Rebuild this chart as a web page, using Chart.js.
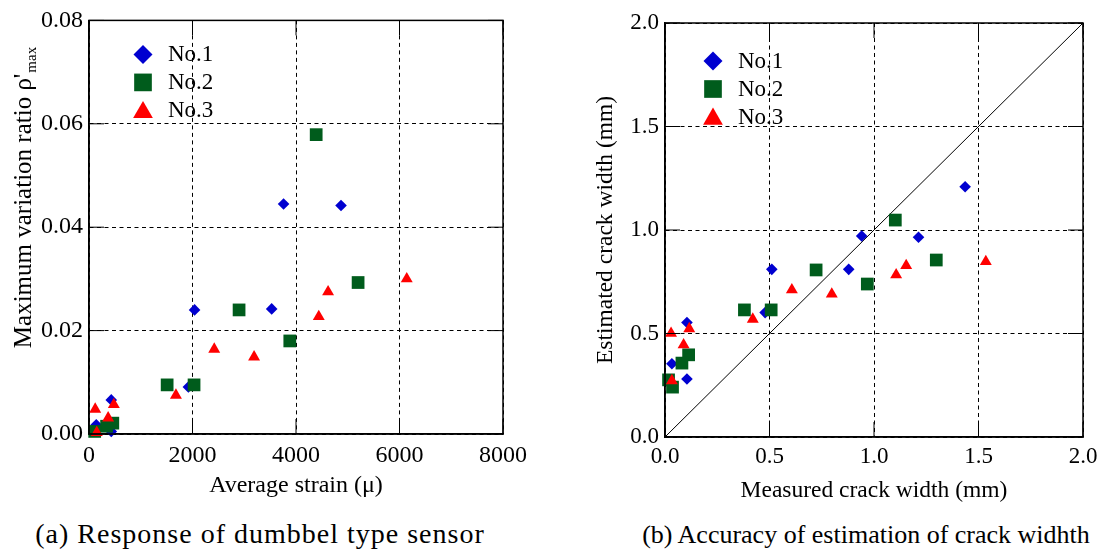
<!DOCTYPE html>
<html>
<head>
<meta charset="utf-8">
<script src="https://cdn.jsdelivr.net/npm/chart.js@4/dist/chart.umd.min.js"></script>
<style>
  body { margin: 0; background: #fff; width: 1105px; height: 552px; position: relative; overflow: hidden; }
  #wrapA { position: absolute; left: 0; top: 0; width: 540px; height: 500px; }
  #wrapB { position: absolute; left: 555px; top: 0; width: 550px; height: 510px; }
  .caption { position: absolute; top: 520px; font-family: "Liberation Serif", serif; font-size: 26px; color: #000; white-space: nowrap; transform: translateX(-50%); }
</style>
</head>
<body>
<div id="wrapA"><canvas id="chartA" width="540" height="500"></canvas></div>
<div id="wrapB"><canvas id="chartB" width="550" height="510"></canvas></div>
<div class="caption" style="left:260px; top:518px; font-size:28px; letter-spacing:1px">(a) Response of dumbbel type sensor</div>
<div class="caption" style="left:866px">(b) Accuracy of estimation of crack widhth</div>

<script>
// ---- data: (a) average strain vs maximum variation ratio ----
const seriesNames = ['No.1', 'No.2', 'No.3'];

const strainNo1 = [3760, 4870, 2040, 3530, 1920, 430, 140, 430];
const ratioNo1  = [0.0445, 0.0442, 0.0240, 0.0242, 0.0091, 0.0066, 0.0018, 0.0005];

const strainNo2 = [4390, 5200, 2900, 3880, 1510, 2030, 460, 340, 110];
const ratioNo2  = [0.0579, 0.0293, 0.0240, 0.0180, 0.0095, 0.0095, 0.0021, 0.0015, 0.0005];

const strainNo3 = [4620, 6140, 4440, 2420, 3190, 1680, 120, 480, 370, 150];
const ratioNo3  = [0.0275, 0.0300, 0.0227, 0.0164, 0.0149, 0.0075, 0.0048, 0.0057, 0.0031, 0.0003];

// ---- data: (b) measured vs estimated crack width ----
const measuredNo1  = [1.436, 0.941, 1.213, 0.511, 0.879, 0.479, 0.105, 0.033, 0.105];
const estimatedNo1 = [1.209, 0.971, 0.965, 0.810, 0.810, 0.601, 0.553, 0.354, 0.280];

const measuredNo2  = [1.102, 1.298, 0.723, 0.968, 0.380, 0.508, 0.113, 0.081, 0.017, 0.036];
const estimatedNo2 = [1.048, 0.855, 0.807, 0.739, 0.614, 0.614, 0.397, 0.357, 0.276, 0.241];

const measuredNo3  = [1.535, 1.154, 1.106, 0.607, 0.798, 0.420, 0.116, 0.029, 0.089, 0.033];
const estimatedNo3 = [0.847, 0.828, 0.783, 0.711, 0.690, 0.569, 0.523, 0.501, 0.445, 0.272];

const equalityLine = [0, 2];

const strainTicks = [0, 2000, 4000, 6000, 8000];
const ratioTicks = [0, 0.02, 0.04, 0.06, 0.08];
const widthTicks = [0, 0.5, 1.0, 1.5, 2.0];

const SERIF = '"Liberation Serif", "Times New Roman", serif';
const colors = ['#0000d0', '#005c1c', '#ff0000'];
const styles = ['rectRot', 'rect', 'triangle'];
const radii = [5.8, 9, 6.9];

function toPoints(xs, ys) {
    return xs.map((x, i) => ({ x: x, y: ys[i] }));
}

function scatterSet(i, xs, ys) {
    return {
        label: seriesNames[i],
        data: toPoints(xs, ys),
        pointStyle: styles[i],
        pointRadius: radii[i],
        pointHoverRadius: radii[i],
        pointBorderWidth: 0,
        backgroundColor: colors[i],
        borderColor: colors[i],
        showLine: false,
        clip: false,
        order: 3 - i
    };
}

// simple marker shapes, same geometry as Chart.js point styles
function marker(ctx, style, x, y, r, color) {
    ctx.save();
    ctx.fillStyle = color;
    ctx.beginPath();
    if (style === 'rectRot') {
        ctx.moveTo(x, y - r); ctx.lineTo(x + r, y); ctx.lineTo(x, y + r); ctx.lineTo(x - r, y);
    } else if (style === 'rect') {
        const s = r / Math.SQRT2;
        ctx.rect(x - s, y - s, 2 * s, 2 * s);
    } else {
        ctx.moveTo(x, y - r); ctx.lineTo(x + 0.866 * r, y + 0.5 * r); ctx.lineTo(x - 0.866 * r, y + 0.5 * r);
    }
    ctx.closePath();
    ctx.fill();
    ctx.restore();
}

// frame, inner tick marks and legend inside the plot
const framePlugin = {
    id: 'frame',
    afterDatasetsDraw(chart, args, opts) {
        const ctx = chart.ctx;
        const a = chart.chartArea;
        const xs = chart.scales.x, ys = chart.scales.y;
        ctx.save();
        ctx.strokeStyle = '#000';
        ctx.lineWidth = 1;
        const tl = 15;
        xs.ticks.forEach(t => {
            const px = xs.getPixelForValue(t.value);
            ctx.beginPath();
            ctx.moveTo(px, a.bottom); ctx.lineTo(px, a.bottom - tl);
            ctx.moveTo(px, a.top); ctx.lineTo(px, a.top + tl);
            ctx.stroke();
        });
        ys.ticks.forEach(t => {
            const py = ys.getPixelForValue(t.value);
            ctx.beginPath();
            ctx.moveTo(a.left, py); ctx.lineTo(a.left + tl, py);
            ctx.moveTo(a.right, py); ctx.lineTo(a.right - tl, py);
            ctx.stroke();
        });
        ctx.lineWidth = 1.5;
        ctx.strokeRect(a.left, a.top, a.right - a.left, a.bottom - a.top);

        // legend
        const lx = a.left + opts.dx, ly = a.top + opts.dy;
        ctx.font = '23px ' + SERIF;
        ctx.textBaseline = 'middle';
        ctx.fillStyle = '#000';
        const legR = [9.5, 12.5, 11.4];
        seriesNames.forEach((name, i) => {
            const y = ly + i * 28;
            marker(ctx, styles[i], lx, y + (i === 2 ? 2 : 0), legR[i], colors[i]);
            ctx.fillText(name, lx + opts.tx, y + 1);
        });
        ctx.restore();
    }
};

// y title with subscript for chart (a)
const subTitlePlugin = {
    id: 'subTitle',
    afterDraw(chart) {
        const ctx = chart.ctx;
        ctx.save();
        ctx.fillStyle = '#000';
        const mainText = "Maximum variation ratio \u03c1'";
        const subText = 'max';
        ctx.font = '25px ' + SERIF;
        const wMain = ctx.measureText(mainText).width;
        ctx.font = '15px ' + SERIF;
        const wSub = ctx.measureText(subText).width;
        const cy = 198 + (wMain + wSub) / 2;
        ctx.translate(31, cy);
        ctx.rotate(-Math.PI / 2);
        ctx.textBaseline = 'alphabetic';
        ctx.textAlign = 'left';
        ctx.font = '25px ' + SERIF;
        ctx.fillText(mainText, 0, 0);
        ctx.font = '15px ' + SERIF;
        ctx.fillText(subText, wMain + 1, 5);
        ctx.restore();
    }
};

function axis(min, max, ticksList, fmt, fontSize, pad, fitSize, horizontal, title) {
    return {
        type: 'linear',
        min: min,
        max: max,
        afterBuildTicks(scale) {
            scale.ticks = ticksList.map(v => ({ value: v }));
        },
        afterFit(scale) {
            if (horizontal) scale.height = fitSize; else scale.width = fitSize;
        },
        ticks: {
            color: '#000',
            padding: pad,
            font: { family: SERIF, size: fontSize },
            callback: v => fmt(v),
            maxRotation: 0,
            autoSkip: false
        },
        grid: {
            color: '#000',
            lineWidth: 1,
            drawTicks: false
        },
        border: { display: true, color: '#000', width: 1.5, dash: [4, 3.5] },
        title: title
    };
}

Chart.defaults.font.family = SERIF;
Chart.defaults.color = '#000';

const chartA = new Chart(document.getElementById('chartA'), {
    type: 'scatter',
    data: {
        datasets: [
            scatterSet(0, strainNo1, ratioNo1),
            scatterSet(1, strainNo2, ratioNo2),
            scatterSet(2, strainNo3, ratioNo3)
        ]
    },
    options: {
        responsive: false,
        animation: false,
        layout: { padding: { top: 19, right: 37, left: 0, bottom: 0 } },
        plugins: {
            legend: { display: false },
            tooltip: { enabled: false },
            frame: { dx: 54, dy: 34, tx: 25 }
        },
        scales: {
            x: axis(0, 8000, strainTicks, v => String(v), 24, 7, 66, true,
                { display: true, text: 'Average strain (\u03bc)', color: '#000', font: { family: SERIF, size: 24 }, padding: { top: 0, bottom: 0 } }),
            y: axis(0, 0.08, ratioTicks, v => v.toFixed(2), 24, 6, 89, false, { display: false })
        }
    },
    plugins: [framePlugin, subTitlePlugin]
});

const chartB = new Chart(document.getElementById('chartB'), {
    type: 'scatter',
    data: {
        datasets: [
            scatterSet(0, measuredNo1, estimatedNo1),
            scatterSet(1, measuredNo2, estimatedNo2),
            scatterSet(2, measuredNo3, estimatedNo3),
            {
                label: 'y = x',
                data: toPoints(equalityLine, equalityLine),
                type: 'line',
                borderColor: '#000',
                borderWidth: 1,
                pointRadius: 0,
                fill: false,
                order: 10
            }
        ]
    },
    options: {
        responsive: false,
        animation: false,
        layout: { padding: { top: 23, right: 22, left: 0, bottom: 0 } },
        plugins: {
            legend: { display: false },
            tooltip: { enabled: false },
            frame: { dx: 48, dy: 38, tx: 25 }
        },
        scales: {
            x: axis(0, 2, widthTicks, v => v.toFixed(1), 23, 6, 73, true,
                { display: true, text: 'Measured crack width (mm)', color: '#000', font: { family: SERIF, size: 23.5 }, padding: { top: 0, bottom: 5 } }),
            y: axis(0, 2, widthTicks, v => v.toFixed(1), 23, 6, 110, false,
                { display: true, text: 'Estimated crack width (mm)', color: '#000', font: { family: SERIF, size: 23.5 }, padding: { top: 37, bottom: 0 } })
        }
    },
    plugins: [framePlugin]
});
</script>
</body>
</html>
